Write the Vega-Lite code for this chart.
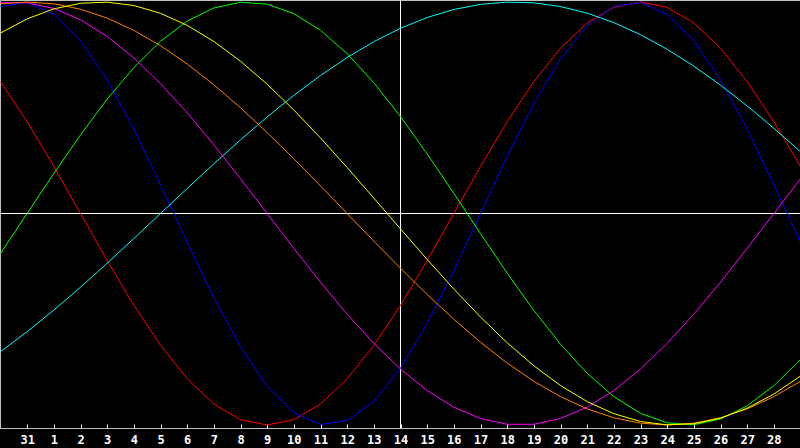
{
  "$schema": "https://vega.github.io/schema/vega-lite/v6.json",
  "width": 800,
  "height": 428,
  "autosize": "none",
  "padding": {"left": 0, "top": 0, "right": 0, "bottom": 20},
  "background": "#000000",
  "config": {
    "view": {"stroke": "#c0c0c0", "strokeWidth": 1},
    "axis": {"grid": false}
  },
  "data": {
    "values": [
      {"day":-1,"curve":"red","value":0.6235},{"day":0,"curve":"red","value":0.4339},{"day":1,"curve":"red","value":0.2225},{"day":2,"curve":"red","value":0},{"day":3,"curve":"red","value":-0.2225},{"day":4,"curve":"red","value":-0.4339},{"day":5,"curve":"red","value":-0.6235},{"day":6,"curve":"red","value":-0.7818},{"day":7,"curve":"red","value":-0.9010},{"day":8,"curve":"red","value":-0.9749},{"day":9,"curve":"red","value":-1},{"day":10,"curve":"red","value":-0.9749},{"day":11,"curve":"red","value":-0.9010},{"day":12,"curve":"red","value":-0.7818},{"day":13,"curve":"red","value":-0.6235},{"day":14,"curve":"red","value":-0.4339},{"day":15,"curve":"red","value":-0.2225},{"day":16,"curve":"red","value":0},{"day":17,"curve":"red","value":0.2225},{"day":18,"curve":"red","value":0.4339},{"day":19,"curve":"red","value":0.6235},{"day":20,"curve":"red","value":0.7818},{"day":21,"curve":"red","value":0.9010},{"day":22,"curve":"red","value":0.9749},{"day":23,"curve":"red","value":1},{"day":24,"curve":"red","value":0.9749},{"day":25,"curve":"red","value":0.9010},{"day":26,"curve":"red","value":0.7818},{"day":27,"curve":"red","value":0.6235},{"day":28,"curve":"red","value":0.4339},{"day":29,"curve":"red","value":0.2225},
      {"day":-1,"curve":"blue","value":0.9791},{"day":0,"curve":"blue","value":0.9977},{"day":1,"curve":"blue","value":0.9423},{"day":2,"curve":"blue","value":0.8170},{"day":3,"curve":"blue","value":0.6311},{"day":4,"curve":"blue","value":0.3984},{"day":5,"curve":"blue","value":0.1362},{"day":6,"curve":"blue","value":-0.1362},{"day":7,"curve":"blue","value":-0.3984},{"day":8,"curve":"blue","value":-0.6311},{"day":9,"curve":"blue","value":-0.8170},{"day":10,"curve":"blue","value":-0.9423},{"day":11,"curve":"blue","value":-0.9977},{"day":12,"curve":"blue","value":-0.9791},{"day":13,"curve":"blue","value":-0.8879},{"day":14,"curve":"blue","value":-0.7308},{"day":15,"curve":"blue","value":-0.5196},{"day":16,"curve":"blue","value":-0.2698},{"day":17,"curve":"blue","value":0},{"day":18,"curve":"blue","value":0.2698},{"day":19,"curve":"blue","value":0.5196},{"day":20,"curve":"blue","value":0.7308},{"day":21,"curve":"blue","value":0.8879},{"day":22,"curve":"blue","value":0.9791},{"day":23,"curve":"blue","value":0.9977},{"day":24,"curve":"blue","value":0.9423},{"day":25,"curve":"blue","value":0.8170},{"day":26,"curve":"blue","value":0.6311},{"day":27,"curve":"blue","value":0.3984},{"day":28,"curve":"blue","value":0.1362},{"day":29,"curve":"blue","value":-0.1362},
      {"day":-1,"curve":"green","value":-0.1893},{"day":0,"curve":"green","value":0},{"day":1,"curve":"green","value":0.1893},{"day":2,"curve":"green","value":0.3717},{"day":3,"curve":"green","value":0.5406},{"day":4,"curve":"green","value":0.6901},{"day":5,"curve":"green","value":0.8146},{"day":6,"curve":"green","value":0.9096},{"day":7,"curve":"green","value":0.9718},{"day":8,"curve":"green","value":0.9989},{"day":9,"curve":"green","value":0.9898},{"day":10,"curve":"green","value":0.9450},{"day":11,"curve":"green","value":0.8660},{"day":12,"curve":"green","value":0.7557},{"day":13,"curve":"green","value":0.6182},{"day":14,"curve":"green","value":0.4582},{"day":15,"curve":"green","value":0.2817},{"day":16,"curve":"green","value":0.0951},{"day":17,"curve":"green","value":-0.0951},{"day":18,"curve":"green","value":-0.2817},{"day":19,"curve":"green","value":-0.4582},{"day":20,"curve":"green","value":-0.6182},{"day":21,"curve":"green","value":-0.7557},{"day":22,"curve":"green","value":-0.8660},{"day":23,"curve":"green","value":-0.9450},{"day":24,"curve":"green","value":-0.9898},{"day":25,"curve":"green","value":-0.9989},{"day":26,"curve":"green","value":-0.9718},{"day":27,"curve":"green","value":-0.9096},{"day":28,"curve":"green","value":-0.8146},{"day":29,"curve":"green","value":-0.6901},
      {"day":-1,"curve":"cyan","value":-0.6528},{"day":0,"curve":"cyan","value":-0.5586},{"day":1,"curve":"cyan","value":-0.4566},{"day":2,"curve":"cyan","value":-0.3482},{"day":3,"curve":"cyan","value":-0.2349},{"day":4,"curve":"cyan","value":-0.1183},{"day":5,"curve":"cyan","value":0},{"day":6,"curve":"cyan","value":0.1183},{"day":7,"curve":"cyan","value":0.2349},{"day":8,"curve":"cyan","value":0.3482},{"day":9,"curve":"cyan","value":0.4566},{"day":10,"curve":"cyan","value":0.5586},{"day":11,"curve":"cyan","value":0.6528},{"day":12,"curve":"cyan","value":0.7378},{"day":13,"curve":"cyan","value":0.8126},{"day":14,"curve":"cyan","value":0.8759},{"day":15,"curve":"cyan","value":0.9267},{"day":16,"curve":"cyan","value":0.9646},{"day":17,"curve":"cyan","value":0.9890},{"day":18,"curve":"cyan","value":0.9996},{"day":19,"curve":"cyan","value":0.9961},{"day":20,"curve":"cyan","value":0.9786},{"day":21,"curve":"cyan","value":0.9473},{"day":22,"curve":"cyan","value":0.9027},{"day":23,"curve":"cyan","value":0.8456},{"day":24,"curve":"cyan","value":0.7765},{"day":25,"curve":"cyan","value":0.6966},{"day":26,"curve":"cyan","value":0.6068},{"day":27,"curve":"cyan","value":0.5085},{"day":28,"curve":"cyan","value":0.4031},{"day":29,"curve":"cyan","value":0.2920},
      {"day":-1,"curve":"magenta","value":0.9966},{"day":0,"curve":"magenta","value":0.9966},{"day":1,"curve":"magenta","value":0.9694},{"day":2,"curve":"magenta","value":0.9158},{"day":3,"curve":"magenta","value":0.8372},{"day":4,"curve":"magenta","value":0.7357},{"day":5,"curve":"magenta","value":0.6142},{"day":6,"curve":"magenta","value":0.4759},{"day":7,"curve":"magenta","value":0.3247},{"day":8,"curve":"magenta","value":0.1646},{"day":9,"curve":"magenta","value":0},{"day":10,"curve":"magenta","value":-0.1646},{"day":11,"curve":"magenta","value":-0.3247},{"day":12,"curve":"magenta","value":-0.4759},{"day":13,"curve":"magenta","value":-0.6142},{"day":14,"curve":"magenta","value":-0.7357},{"day":15,"curve":"magenta","value":-0.8372},{"day":16,"curve":"magenta","value":-0.9158},{"day":17,"curve":"magenta","value":-0.9694},{"day":18,"curve":"magenta","value":-0.9966},{"day":19,"curve":"magenta","value":-0.9966},{"day":20,"curve":"magenta","value":-0.9694},{"day":21,"curve":"magenta","value":-0.9158},{"day":22,"curve":"magenta","value":-0.8372},{"day":23,"curve":"magenta","value":-0.7357},{"day":24,"curve":"magenta","value":-0.6142},{"day":25,"curve":"magenta","value":-0.4759},{"day":26,"curve":"magenta","value":-0.3247},{"day":27,"curve":"magenta","value":-0.1646},{"day":28,"curve":"magenta","value":0},{"day":29,"curve":"magenta","value":0.1646},
      {"day":-1,"curve":"orange","value":0.9914},{"day":0,"curve":"orange","value":1},{"day":1,"curve":"orange","value":0.9914},{"day":2,"curve":"orange","value":0.9659},{"day":3,"curve":"orange","value":0.9239},{"day":4,"curve":"orange","value":0.8660},{"day":5,"curve":"orange","value":0.7934},{"day":6,"curve":"orange","value":0.7071},{"day":7,"curve":"orange","value":0.6088},{"day":8,"curve":"orange","value":0.5},{"day":9,"curve":"orange","value":0.3827},{"day":10,"curve":"orange","value":0.2588},{"day":11,"curve":"orange","value":0.1305},{"day":12,"curve":"orange","value":0},{"day":13,"curve":"orange","value":-0.1305},{"day":14,"curve":"orange","value":-0.2588},{"day":15,"curve":"orange","value":-0.3827},{"day":16,"curve":"orange","value":-0.5},{"day":17,"curve":"orange","value":-0.6088},{"day":18,"curve":"orange","value":-0.7071},{"day":19,"curve":"orange","value":-0.7934},{"day":20,"curve":"orange","value":-0.8660},{"day":21,"curve":"orange","value":-0.9239},{"day":22,"curve":"orange","value":-0.9659},{"day":23,"curve":"orange","value":-0.9914},{"day":24,"curve":"orange","value":-1},{"day":25,"curve":"orange","value":-0.9914},{"day":26,"curve":"orange","value":-0.9659},{"day":27,"curve":"orange","value":-0.9239},{"day":28,"curve":"orange","value":-0.8660},{"day":29,"curve":"orange","value":-0.7934},
      {"day":-1,"curve":"yellow","value":0.8536},{"day":0,"curve":"yellow","value":0.9203},{"day":1,"curve":"yellow","value":0.9675},{"day":2,"curve":"yellow","value":0.9940},{"day":3,"curve":"yellow","value":0.9993},{"day":4,"curve":"yellow","value":0.9834},{"day":5,"curve":"yellow","value":0.9465},{"day":6,"curve":"yellow","value":0.8894},{"day":7,"curve":"yellow","value":0.8135},{"day":8,"curve":"yellow","value":0.7199},{"day":9,"curve":"yellow","value":0.6112},{"day":10,"curve":"yellow","value":0.4895},{"day":11,"curve":"yellow","value":0.3572},{"day":12,"curve":"yellow","value":0.2174},{"day":13,"curve":"yellow","value":0.0730},{"day":14,"curve":"yellow","value":-0.0730},{"day":15,"curve":"yellow","value":-0.2174},{"day":16,"curve":"yellow","value":-0.3572},{"day":17,"curve":"yellow","value":-0.4895},{"day":18,"curve":"yellow","value":-0.6112},{"day":19,"curve":"yellow","value":-0.7199},{"day":20,"curve":"yellow","value":-0.8135},{"day":21,"curve":"yellow","value":-0.8894},{"day":22,"curve":"yellow","value":-0.9465},{"day":23,"curve":"yellow","value":-0.9834},{"day":24,"curve":"yellow","value":-0.9993},{"day":25,"curve":"yellow","value":-0.9940},{"day":26,"curve":"yellow","value":-0.9675},{"day":27,"curve":"yellow","value":-0.9203},{"day":28,"curve":"yellow","value":-0.8536},{"day":29,"curve":"yellow","value":-0.7684}
    ]
  },
  "encoding": {
    "x": {
      "field": "day",
      "type": "quantitative",
      "scale": {"domain": [-1.01875, 28.98125], "nice": false, "zero": false},
      "axis": {
        "title": null,
        "values": [0,1,2,3,4,5,6,7,8,9,10,11,12,13,14,15,16,17,18,19,20,21,22,23,24,25,26,27,28],
        "labelExpr": "datum.value == 0 ? '31' : datum.label",
        "domainColor": "#c0c0c0",
        "tickColor": "#ffffff",
        "tickSize": -4,
        "labelPadding": 10,
        "labelColor": "#ffffff",
        "labelFont": "DejaVu Sans Mono",
        "labelFontWeight": "bold",
        "labelFontSize": 12,
        "labelFlush": false,
        "labelOverlap": false
      }
    },
    "y": {
      "field": "value",
      "type": "quantitative",
      "scale": {"domain": [-1.0142, 1.0095], "nice": false, "zero": false},
      "axis": null
    }
  },
  "layer": [
    {
      "mark": {"type": "rule", "color": "#ffffff", "strokeWidth": 1},
      "encoding": {"y": {"datum": 0}, "x": {"value": 0}, "x2": {"value": 800}}
    },
    {
      "mark": {"type": "rule", "color": "#ffffff", "strokeWidth": 1},
      "encoding": {"x": {"datum": 14}, "y": {"value": 0}, "y2": {"value": 428}}
    },
    {
      "mark": {"type": "line", "strokeWidth": 1, "clip": true},
      "encoding": {
        "detail": {"field": "curve", "type": "nominal"},
        "color": {
          "field": "curve",
          "type": "nominal",
          "scale": {
            "domain": ["red", "blue", "green", "cyan", "magenta", "orange", "yellow"],
            "range": ["#ff0000", "#0000ff", "#00ff00", "#00ffff", "#ff00ff", "#ff8000", "#ffff00"]
          },
          "legend": null
        }
      }
    }
  ]
}
